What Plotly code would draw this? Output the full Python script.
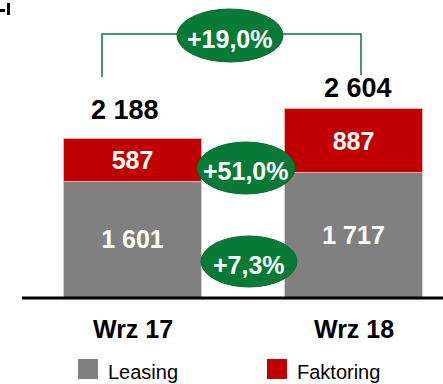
import plotly.graph_objects as go

# Data
categories = ["Wrz 17", "Wrz 18"]
leasing = [1601, 1717]
faktoring = [587, 887]
totals = [a + b for a, b in zip(leasing, faktoring)]
growth_total = "+19,0%"
growth_faktoring = "+51,0%"
growth_leasing = "+7,3%"

W, H = 443, 384
PLOT_H = 297  # height of the plotting area in px (top margin 0)

GRAY = "#808080"
RED = "#C00000"
GREEN = "#087A38"
FONT = "Liberation Sans, Arial, sans-serif"


def fmt(v):
    return f"{v:,}".replace(",", " ")


def px(x):
    return x / W


def py(y):
    return 1 - y / PLOT_H


xs = [0, 1]
bar_w = 0.62

fig = go.Figure()
fig.add_trace(go.Bar(
    x=xs, y=leasing, name="Leasing", width=bar_w,
    marker=dict(color=GRAY, line=dict(color="#cfcfcf", width=1)),
    text=[fmt(v) for v in leasing], textposition="inside",
    insidetextanchor="middle",
    textfont=dict(family=FONT, size=25, color="white", weight="bold"),
    showlegend=False,
))
fig.add_trace(go.Bar(
    x=xs, y=faktoring, name="Faktoring", width=bar_w,
    marker=dict(color=RED, line=dict(color="#e3b0b0", width=1)),
    text=[fmt(v) for v in faktoring], textposition="inside",
    insidetextanchor="middle",
    textfont=dict(family=FONT, size=25, color="white", weight="bold"),
    showlegend=False,
))

annotations = []
# Totals above stacks
total_shift = [12, 4]
for x, t, s in zip(xs, totals, total_shift):
    annotations.append(dict(
        x=x, y=t, xref="x", yref="y", text=fmt(t), showarrow=False,
        yanchor="bottom", yshift=s, xshift=-8 if x == 0 else 4,
        font=dict(family=FONT, size=27, color="black", weight="bold"),
    ))

# Category labels
for x, c in zip(xs, categories):
    annotations.append(dict(
        x=x, y=py(329), xref="x", yref="paper", text=c, showarrow=False,
        yanchor="middle",
        font=dict(family=FONT, size=25, color="black", weight="bold"),
    ))

shapes = []
# Baseline
shapes.append(dict(type="line", xref="paper", yref="paper",
                   x0=px(22), x1=1, y0=py(298), y1=py(298),
                   line=dict(color="black", width=3)))

# Growth bracket
shapes.append(dict(type="path", xref="paper", yref="paper",
                   path=f"M {px(102)} {py(77)} L {px(102)} {py(34)} L {px(180)} {py(34)}",
                   line=dict(color=GREEN, width=1.5)))
shapes.append(dict(type="path", xref="paper", yref="paper",
                   path=f"M {px(280)} {py(34)} L {px(361)} {py(34)} L {px(361)} {py(75)}",
                   line=dict(color=GREEN, width=1.5)))

# Growth ellipses
ellipses = [
    (177, 9, 283, 62, growth_total),
    (197, 142, 295, 194, growth_faktoring),
    (201, 236, 297, 287, growth_leasing),
]
for x0, y0, x1, y1, label in ellipses:
    shapes.append(dict(type="circle", xref="paper", yref="paper",
                       x0=px(x0), x1=px(x1), y0=py(y1), y1=py(y0),
                       fillcolor=GREEN, line=dict(color="#0a6630", width=1)))
    annotations.append(dict(
        x=px((x0 + x1) / 2), y=py((y0 + y1) / 2 + 3), xref="paper", yref="paper",
        text=label, showarrow=False, yanchor="middle", xanchor="center",
        font=dict(family=FONT, size=25, color="white", weight="bold"),
    ))

# Legend
legend_items = [("Leasing", GRAY, 78), ("Faktoring", RED, 267)]
for name, color, lx in legend_items:
    shapes.append(dict(type="rect", xref="paper", yref="paper",
                       x0=px(lx), x1=px(lx + 20), y0=py(379), y1=py(359),
                       fillcolor=color, line=dict(width=0)))
    annotations.append(dict(
        x=px(lx + 28), y=py(372), xref="paper", yref="paper", text=name,
        showarrow=False, xanchor="left", yanchor="middle",
        font=dict(family=FONT, size=20, color="black"),
    ))

# Corner mark
shapes.append(dict(type="rect", xref="paper", yref="paper",
                   x0=px(0), x1=px(5), y0=py(12), y1=py(9),
                   fillcolor="black", line=dict(width=0)))
shapes.append(dict(type="rect", xref="paper", yref="paper",
                   x0=px(7), x1=px(10), y0=py(15), y1=py(3),
                   fillcolor="black", line=dict(width=0)))

x_left = -132.5 / 221
x_right = 1 + (W - 353.5) / 221

fig.update_layout(
    width=W, height=H,
    margin=dict(l=0, r=0, t=0, b=H - PLOT_H, pad=0),
    barmode="stack",
    plot_bgcolor="white", paper_bgcolor="white",
    xaxis=dict(range=[x_left, x_right], visible=False, fixedrange=True),
    yaxis=dict(range=[0, 4110], visible=False, fixedrange=True),
    shapes=shapes,
    annotations=annotations,
    uniformtext=dict(mode="show", minsize=10),
)

fig.write_html("out.html", config={"displayModeBar": False})
